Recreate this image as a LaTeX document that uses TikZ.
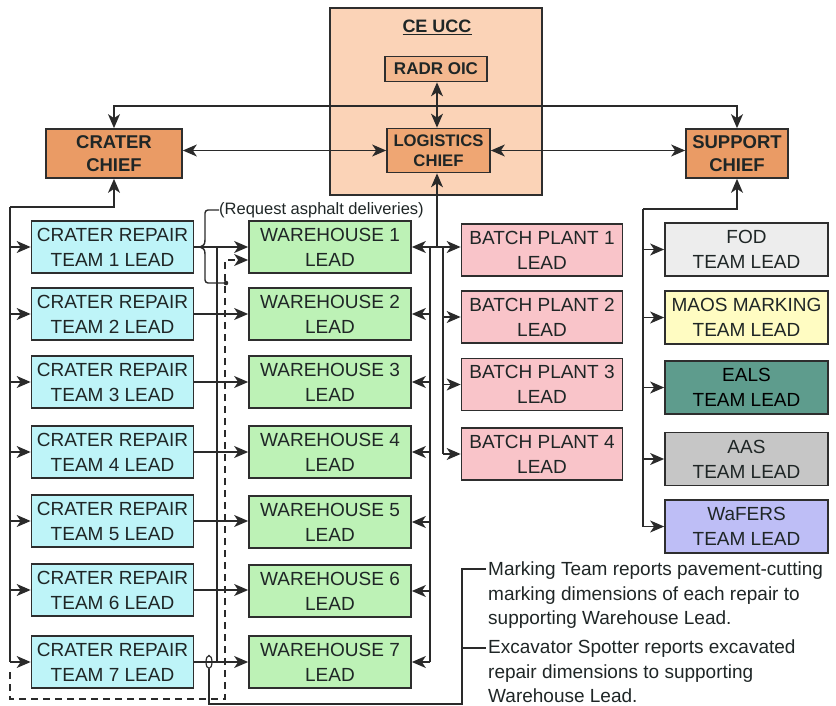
\documentclass[tikz,border=0pt]{standalone}
\usepackage{fontspec}
\setmainfont{Liberation Sans}
\usetikzlibrary{arrows.meta,calc,shapes.geometric}
\definecolor{textc}{HTML}{1F2626}
\definecolor{boxline}{HTML}{2E2E2E}
\definecolor{linec}{HTML}{2A2A2A}
\definecolor{crfill}{HTML}{BEF4F8}
\definecolor{whfill}{HTML}{BDF2B6}
\definecolor{bpfill}{HTML}{F9C4C9}
\definecolor{fodfill}{HTML}{EDEDED}
\definecolor{maosfill}{HTML}{FFFCC2}
\definecolor{ealsfill}{HTML}{5E9C8D}
\definecolor{aasfill}{HTML}{C6C6C6}
\definecolor{wffill}{HTML}{BEBEF6}
\definecolor{chieffill}{HTML}{EA9B65}
\definecolor{logfill}{HTML}{EFA673}
\definecolor{radrfill}{HTML}{F4B88F}
\definecolor{uccfill}{HTML}{FBD3B7}
\tikzset{
  arr/.style={-{Stealth[length=14pt,width=12pt,inset=4pt]}, draw=linec, line width=1.4pt},
  darr/.style={{Stealth[length=14pt,width=12pt,inset=4pt]}-{Stealth[length=14pt,width=12pt,inset=4pt]}, draw=linec, line width=1.4pt},
  conn/.style={draw=linec, line width=1.4pt},
  box/.style={draw=boxline, line width=1.7pt, inner sep=0pt, align=center,
    minimum height=52, text=textc, font=\fontsize{19}{25}\selectfont},
  crbox/.style={box, fill=crfill, minimum width=162},
  whbox/.style={box, fill=whfill, minimum width=162},
  bpbox/.style={box, fill=bpfill, minimum width=161},
  rtbox/.style={box, minimum width=163, minimum height=53},
  chiefbox/.style={draw=boxline, line width=1.7pt, inner sep=0pt, align=center,
    text=textc, font=\fontsize{18.5}{23}\selectfont\bfseries},
  notetext/.style={anchor=north west, inner sep=0pt, align=left, text=textc,
    font=\fontsize{19}{24.5}\selectfont}
}
\begin{document}
\begin{tikzpicture}[x=1pt,y=-1pt]
\useasboundingbox (0,0) rectangle (836,706);
\fill[white] (0,0) rectangle (836,706);

% CE UCC
\node[draw=boxline, line width=1.7pt, fill=uccfill, minimum width=212, minimum height=187, inner sep=0pt] (ucc) at (436,101.5) {};
\node[text=textc, font=\fontsize{18}{20}\selectfont\bfseries] (ucct) at (437,27) {\underline{CE UCC}};
\node[chiefbox, fill=radrfill, minimum width=102, minimum height=25, font=\fontsize{17}{20}\selectfont\bfseries] (radr) at (436,69) {RADR OIC};
\node[chiefbox, fill=logfill, minimum width=103, minimum height=44, font=\fontsize{16.7}{20}\selectfont\bfseries] (logc) at (438.5,150.5) {LOGISTICS\\CHIEF};
\node[chiefbox, fill=chieffill, minimum width=136, minimum height=49] (crc) at (114,153.5) {CRATER\\CHIEF};
\node[chiefbox, fill=chieffill, minimum width=102, minimum height=49] (supc) at (737,153.5) {SUPPORT\\CHIEF};

% crater repair teams
\node[crbox] (cr1) at (112.5,247) {CRATER REPAIR\\TEAM 1 LEAD};
\node[crbox] (cr2) at (112.5,314) {CRATER REPAIR\\TEAM 2 LEAD};
\node[crbox] (cr3) at (112.5,382) {CRATER REPAIR\\TEAM 3 LEAD};
\node[crbox] (cr4) at (112.5,452) {CRATER REPAIR\\TEAM 4 LEAD};
\node[crbox] (cr5) at (112.5,521) {CRATER REPAIR\\TEAM 5 LEAD};
\node[crbox] (cr6) at (112.5,590) {CRATER REPAIR\\TEAM 6 LEAD};
\node[crbox] (cr7) at (112.5,662) {CRATER REPAIR\\TEAM 7 LEAD};

% warehouses
\node[whbox] (wh1) at (330,247) {WAREHOUSE 1\\LEAD};
\node[whbox] (wh2) at (330,314) {WAREHOUSE 2\\LEAD};
\node[whbox] (wh3) at (330,382) {WAREHOUSE 3\\LEAD};
\node[whbox] (wh4) at (330,452) {WAREHOUSE 4\\LEAD};
\node[whbox] (wh5) at (330,522) {WAREHOUSE 5\\LEAD};
\node[whbox] (wh6) at (330,591) {WAREHOUSE 6\\LEAD};
\node[whbox] (wh7) at (330,662) {WAREHOUSE 7\\LEAD};

% batch plants
\node[bpbox] (bp1) at (542,250) {BATCH PLANT 1\\LEAD};
\node[bpbox] (bp2) at (542,317) {BATCH PLANT 2\\LEAD};
\node[bpbox] (bp3) at (542,384.5) {BATCH PLANT 3\\LEAD};
\node[bpbox] (bp4) at (542,454) {BATCH PLANT 4\\LEAD};

% support teams
\node[rtbox, fill=fodfill] (fod) at (746.5,249.5) {FOD\\TEAM LEAD};
\node[rtbox, fill=maosfill] (maos) at (746.5,317.5) {MAOS MARKING\\TEAM LEAD};
\node[rtbox, fill=ealsfill, text=black] (eals) at (746.5,387.5) {EALS\\TEAM LEAD};
\node[rtbox, fill=aasfill] (aas) at (746.5,459) {AAS\\TEAM LEAD};
\node[rtbox, fill=wffill] (wf) at (746.5,526.5) {WaFERS\\TEAM LEAD};

% top connections
\coordinate (tb) at (437,106);
\draw[darr] (crc.north) |- (tb) -| (supc.north);
\draw[darr] (radr.south -| tb) -- (tb |- logc.north);
\draw[darr] (logc.west -| crc.east) -- (logc.west);
\draw[darr] (logc.east) -- (logc.east -| supc.west);

% left bus
\coordinate (lb) at (10,207);
\draw[arr] (lb) -| (crc.south);
\draw[conn] (lb) -- (lb |- cr7.west);
\foreach \i in {1,...,7} {\draw[arr] (lb |- cr\i.west) -- (cr\i.west);}

% right bus
\coordinate (rb) at (643,209);
\draw[arr] (rb) -| (supc.south);
\draw[conn] (rb) -- (rb |- wf.west);
\foreach \n in {fod,maos,eals,aas,wf} {\draw[arr] (rb |- \n.west) -- (\n.west);}

% logistics bus
\coordinate (lj) at (437,247);
\coordinate (wl) at (430,247);
\coordinate (wr) at (443,247);
\draw[arr] (lj) -- (lj |- logc.south);
\draw[arr] (lj) -- (lj -| wh1.east);
\draw[arr] (lj) -- (lj -| bp1.west);
\draw[conn] (wl) -- (wl |- wh7.east);
\draw[conn] (wr) -- (wr |- bp4.west);
\foreach \i in {2,...,7} {\draw[arr] (wl |- wh\i.east) -- (wh\i.east);}
\foreach \i in {2,...,4} {\draw[arr] (wr |- bp\i.west) -- (bp\i.west);}

% crater -> warehouse
\foreach \i in {1,...,7} {\draw[arr] (cr\i.east) -- (cr\i.east -| wh\i.west);}
\coordinate (sb) at (217,247);
\draw[conn] (sb) -- (sb |- cr7.east);

% request asphalt bracket
\node[anchor=west, inner sep=0pt, text=textc, font=\fontsize{16.5}{20}\selectfont] (req) at (219,210) {(Request asphalt deliveries)};
\coordinate (dot) at (226,283);
\draw[conn, rounded corners=3pt] (req.west) -- (205,210) -- (205,240);
\draw[conn] (205,240) .. controls (205,245) and (203,246) .. (200,247) .. controls (203,248) and (205,249) .. (205,254);
\draw[conn, rounded corners=3pt] (205,254) -- (205,283) -- (dot);
\fill[linec] (dot) circle (2.3pt);

% dashed loop
\coordinate (dl) at (10,672);
\coordinate (dtop) at (225,260);
\draw[arr, dash pattern=on 7pt off 5pt] (dl) |- (225,699) -- (dtop) -- (dtop -| wh1.west);

% oval and notes bracket
\node[draw=linec, line width=1.2pt, ellipse, minimum width=6, minimum height=13, inner sep=0pt] (ov) at (209,662) {};
\node[notetext] (note1) at (488,562) {Marking Team reports pavement-cutting\\marking dimensions of each repair to\\supporting Warehouse Lead.};
\node[notetext] (note2) at (488,640) {Excavator Spotter reports excavated\\repair dimensions to supporting\\Warehouse Lead.};
\coordinate (t1) at (486,569);
\coordinate (t2) at (486,648);
\draw[conn] (ov.south) |- (462,704) |- (t1);
\draw[conn] (462,648) -- (t2);
\end{tikzpicture}
\end{document}
